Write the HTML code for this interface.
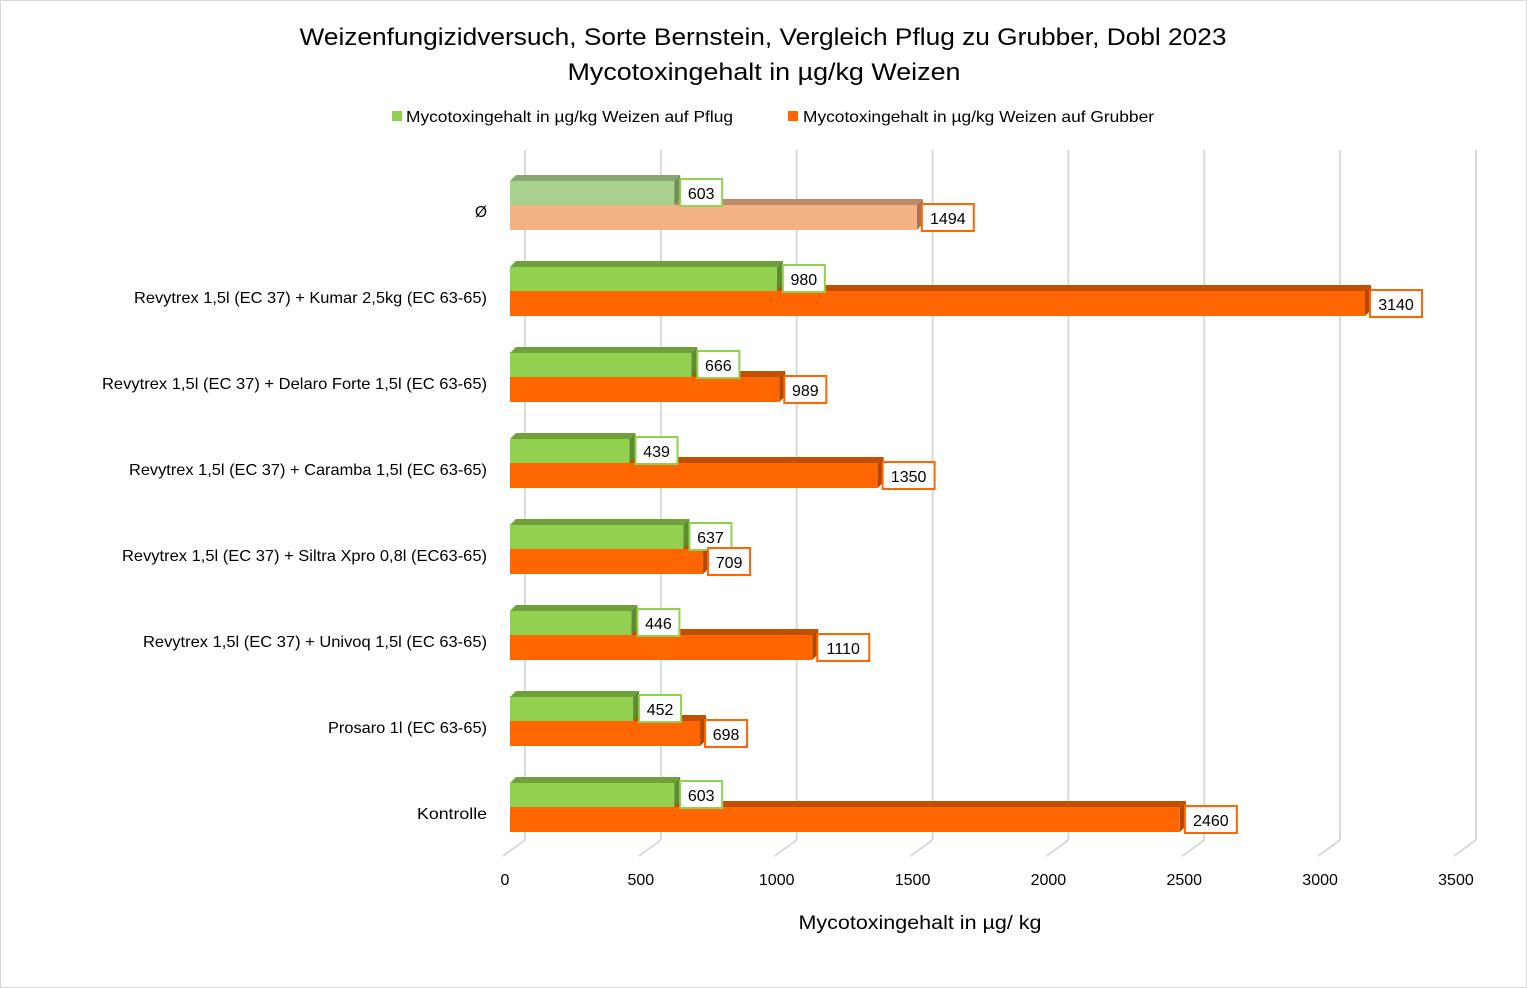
<!DOCTYPE html>
<html><head><meta charset="utf-8"><style>
html,body{margin:0;padding:0;background:#fff}
svg{display:block}
text{font-family:"Liberation Sans",sans-serif;fill:#000}
</style></head><body>
<svg id="s" width="1527" height="988" xmlns="http://www.w3.org/2000/svg">
<rect x="0.5" y="0.5" width="1526" height="987" fill="#fff" stroke="#d9d9d9"/>
<text x="763" y="45" font-size="24" text-anchor="middle" textLength="927" lengthAdjust="spacingAndGlyphs">Weizenfungizidversuch, Sorte Bernstein, Vergleich Pflug zu Grubber, Dobl 2023</text>
<text x="764" y="80" font-size="24" text-anchor="middle" textLength="393" lengthAdjust="spacingAndGlyphs">Mycotoxingehalt in µg/kg Weizen</text>
<rect x="392" y="111" width="10" height="10" fill="#92D050"/>
<text x="406" y="122" font-size="16" textLength="327" lengthAdjust="spacingAndGlyphs">Mycotoxingehalt in µg/kg Weizen auf Pflug</text>
<rect x="788" y="111" width="10" height="10" fill="#FF6600"/>
<text x="803" y="122" font-size="16" textLength="351" lengthAdjust="spacingAndGlyphs">Mycotoxingehalt in µg/kg Weizen auf Grubber</text>
<text x="920" y="929" font-size="19" text-anchor="middle" textLength="243" lengthAdjust="spacingAndGlyphs">Mycotoxingehalt in µg/ kg</text>
<g id="g"></g>
</svg>
<script>
var g=document.getElementById('g'),h='';
var s=0.2723,x0=510,d=6;
for(var v=0;v<=3500;v+=500){var gx=525+v*0.2717;
h+='<line x1="'+gx+'" y1="150" x2="'+gx+'" y2="840" stroke="#d9d9d9" stroke-width="2"/>';
h+='<line x1="'+gx+'" y1="840" x2="'+(gx-22)+'" y2="856" stroke="#d9d9d9" stroke-width="2"/>';
h+='<text x="'+(gx-20)+'" y="885" font-size="16" text-anchor="middle">'+v+'</text>';}
var cats=[["Ø",12,603,1494],["Revytrex 1,5l (EC 37) + Kumar 2,5kg (EC 63-65)",353,980,3140],["Revytrex 1,5l (EC 37) + Delaro Forte 1,5l (EC 63-65)",385,666,989],["Revytrex 1,5l (EC 37) + Caramba 1,5l (EC 63-65)",358,439,1350],["Revytrex 1,5l (EC 37) + Siltra Xpro 0,8l (EC63-65)",365,637,709],["Revytrex 1,5l (EC 37) + Univoq 1,5l (EC 63-65)",344,446,1110],["Prosaro 1l (EC 63-65)",159,452,698],["Kontrolle",70,603,2460]];
function bar(top,hh,val,front,topc,side){var x1=x0+val*s;
return '<polygon points="'+x0+','+top+' '+(x0+d)+','+(top-d)+' '+(x1+d)+','+(top-d)+' '+x1+','+top+'" fill="'+topc+'"/>'+
'<polygon points="'+x1+','+top+' '+(x1+d)+','+(top-d)+' '+(x1+d)+','+(top+hh-d)+' '+x1+','+(top+hh)+'" fill="'+side+'"/>'+
'<rect x="'+x0+'" y="'+top+'" width="'+(x1-x0)+'" height="'+hh+'" fill="'+front+'"/>';}
function lab(x,y,val,col){var w=String(val).length*10+12;
return '<rect x="'+x+'" y="'+y+'" width="'+w+'" height="27" fill="#fff" stroke="'+col+'" stroke-width="2"/><text x="'+(x+w/2)+'" y="'+(y+20)+'" font-size="16" text-anchor="middle">'+val+'</text>';}
cats.forEach(function(c,i){var gt=181+86*i,ot=205+86*i;var L=i==0;
h+='<text x="487" y="'+(ot+12)+'" font-size="16" text-anchor="end" textLength="'+c[1]+'" lengthAdjust="spacingAndGlyphs">'+c[0]+'</text>';
h+=bar(ot,25,c[3],L?'#F4B183':'#FF6600',L?'#C0896A':'#C04F00',L?'#A8755A':'#B04800');
h+=bar(gt,24,c[2],L?'#A9D18E':'#92D050',L?'#88A870':'#70A03A',L?'#70905A':'#5E8A30');
h+=lab(x0+c[2]*s+6,gt-2,c[2],'#92D050');
h+=lab(x0+c[3]*s+5,ot-1,c[3],'#FF6600');});
g.innerHTML=h;
</script>
</body></html>
